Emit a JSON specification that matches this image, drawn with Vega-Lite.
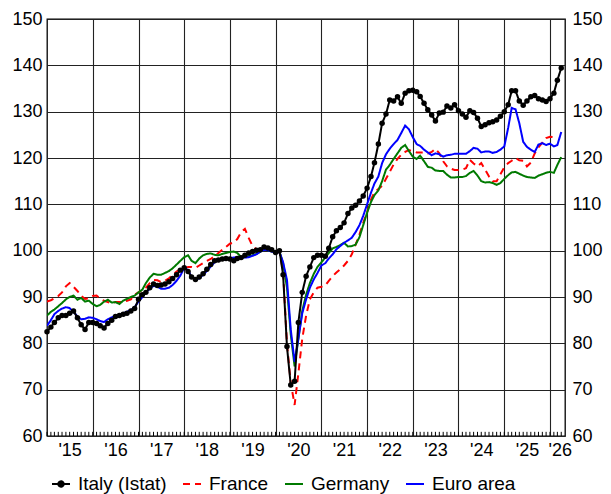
{
"$schema": "https://vega.github.io/schema/vega-lite/v6.json",
"width": 518, "height": 417,
"autosize": {"type": "none"},
"padding": {"left": 47, "top": 19, "right": 46, "bottom": 58},
"config": {
  "font": "Liberation Sans",
  "view": {"stroke": "black", "strokeWidth": 1.3},
  "axis": {"labelFont": "Liberation Sans", "labelFontSize": 18, "labelColor": "black", "title": null},
  "legend": {"labelFont": "Liberation Sans", "labelFontSize": 19, "labelColor": "black"}
},
"datasets": {"all": [
{"d":"2015-01","s":"France","v":89},{"d":"2015-02","s":"France","v":89.3},{"d":"2015-03","s":"France","v":89.7},{"d":"2015-04","s":"France","v":90.2},{"d":"2015-05","s":"France","v":91},{"d":"2015-06","s":"France","v":92.3},{"d":"2015-07","s":"France","v":93},{"d":"2015-08","s":"France","v":92.2},{"d":"2015-09","s":"France","v":91.3},{"d":"2015-10","s":"France","v":90.2},{"d":"2015-11","s":"France","v":89.6},{"d":"2015-12","s":"France","v":89.7},
{"d":"2016-01","s":"France","v":90.2},{"d":"2016-02","s":"France","v":90.3},{"d":"2016-03","s":"France","v":89.6},{"d":"2016-04","s":"France","v":89.2},{"d":"2016-05","s":"France","v":88.9},{"d":"2016-06","s":"France","v":88.7},{"d":"2016-07","s":"France","v":88.9},{"d":"2016-08","s":"France","v":88.9},{"d":"2016-09","s":"France","v":88.9},{"d":"2016-10","s":"France","v":89.2},{"d":"2016-11","s":"France","v":89.5},{"d":"2016-12","s":"France","v":90.5},
{"d":"2017-01","s":"France","v":91},{"d":"2017-02","s":"France","v":91.5},{"d":"2017-03","s":"France","v":92},{"d":"2017-04","s":"France","v":93},{"d":"2017-05","s":"France","v":93.7},{"d":"2017-06","s":"France","v":93.6},{"d":"2017-07","s":"France","v":93.2},{"d":"2017-08","s":"France","v":93.5},{"d":"2017-09","s":"France","v":94},{"d":"2017-10","s":"France","v":94.8},{"d":"2017-11","s":"France","v":95.5},{"d":"2017-12","s":"France","v":96},
{"d":"2018-01","s":"France","v":96.2},{"d":"2018-02","s":"France","v":96.5},{"d":"2018-03","s":"France","v":96.5},{"d":"2018-04","s":"France","v":96.3},{"d":"2018-05","s":"France","v":96.8},{"d":"2018-06","s":"France","v":97.3},{"d":"2018-07","s":"France","v":97.8},{"d":"2018-08","s":"France","v":98.2},{"d":"2018-09","s":"France","v":98.8},{"d":"2018-10","s":"France","v":99.5},{"d":"2018-11","s":"France","v":100.2},{"d":"2018-12","s":"France","v":100.8},
{"d":"2019-01","s":"France","v":101.5},{"d":"2019-02","s":"France","v":101.8},{"d":"2019-03","s":"France","v":102.5},{"d":"2019-04","s":"France","v":104},{"d":"2019-05","s":"France","v":104.7},{"d":"2019-06","s":"France","v":102.7},{"d":"2019-07","s":"France","v":101},{"d":"2019-08","s":"France","v":100.3},{"d":"2019-09","s":"France","v":100},{"d":"2019-10","s":"France","v":100.5},{"d":"2019-11","s":"France","v":100.5},{"d":"2019-12","s":"France","v":100.3},
{"d":"2020-01","s":"France","v":100},{"d":"2020-02","s":"France","v":99.8},{"d":"2020-03","s":"France","v":95.5},{"d":"2020-04","s":"France","v":80},{"d":"2020-05","s":"France","v":71.5},{"d":"2020-06","s":"France","v":66.7},{"d":"2020-07","s":"France","v":73.5},{"d":"2020-08","s":"France","v":81},{"d":"2020-09","s":"France","v":86},{"d":"2020-10","s":"France","v":89.5},{"d":"2020-11","s":"France","v":91},{"d":"2020-12","s":"France","v":92},
{"d":"2021-01","s":"France","v":92.2},{"d":"2021-02","s":"France","v":92.5},{"d":"2021-03","s":"France","v":93.5},{"d":"2021-04","s":"France","v":94.5},{"d":"2021-05","s":"France","v":95.3},{"d":"2021-06","s":"France","v":96},{"d":"2021-07","s":"France","v":96.8},{"d":"2021-08","s":"France","v":97.8},{"d":"2021-09","s":"France","v":99.2},{"d":"2021-10","s":"France","v":101.3},{"d":"2021-11","s":"France","v":103.5},{"d":"2021-12","s":"France","v":106},
{"d":"2022-01","s":"France","v":108.3},{"d":"2022-02","s":"France","v":111},{"d":"2022-03","s":"France","v":112.6},{"d":"2022-04","s":"France","v":113.3},{"d":"2022-05","s":"France","v":114},{"d":"2022-06","s":"France","v":115.5},{"d":"2022-07","s":"France","v":117},{"d":"2022-08","s":"France","v":118.6},{"d":"2022-09","s":"France","v":119.8},{"d":"2022-10","s":"France","v":120.7},{"d":"2022-11","s":"France","v":121.3},{"d":"2022-12","s":"France","v":121.7},
{"d":"2023-01","s":"France","v":121.5},{"d":"2023-02","s":"France","v":121.2},{"d":"2023-03","s":"France","v":121.2},{"d":"2023-04","s":"France","v":121.2},{"d":"2023-05","s":"France","v":121},{"d":"2023-06","s":"France","v":121.3},{"d":"2023-07","s":"France","v":122},{"d":"2023-08","s":"France","v":121},{"d":"2023-09","s":"France","v":119.3},{"d":"2023-10","s":"France","v":118.2},{"d":"2023-11","s":"France","v":117.7},{"d":"2023-12","s":"France","v":117.4},
{"d":"2024-01","s":"France","v":117.4},{"d":"2024-02","s":"France","v":117.5},{"d":"2024-03","s":"France","v":117.8},{"d":"2024-04","s":"France","v":119.6},{"d":"2024-05","s":"France","v":118.8},{"d":"2024-06","s":"France","v":118.2},{"d":"2024-07","s":"France","v":118.9},{"d":"2024-08","s":"France","v":117.5},{"d":"2024-09","s":"France","v":116},{"d":"2024-10","s":"France","v":115},{"d":"2024-11","s":"France","v":115},{"d":"2024-12","s":"France","v":116.5},
{"d":"2025-01","s":"France","v":118},{"d":"2025-02","s":"France","v":118.9},{"d":"2025-03","s":"France","v":119.4},{"d":"2025-04","s":"France","v":120},{"d":"2025-05","s":"France","v":119.5},{"d":"2025-06","s":"France","v":119.4},{"d":"2025-07","s":"France","v":118.2},{"d":"2025-08","s":"France","v":119},{"d":"2025-09","s":"France","v":121},{"d":"2025-10","s":"France","v":122.3},{"d":"2025-11","s":"France","v":123.3},{"d":"2025-12","s":"France","v":124.3},
{"d":"2026-01","s":"France","v":124.6},{"d":"2026-02","s":"France","v":124.5},
{"d":"2015-01","s":"Germany","v":86},{"d":"2015-02","s":"Germany","v":86.8},{"d":"2015-03","s":"Germany","v":87.3},{"d":"2015-04","s":"Germany","v":88},{"d":"2015-05","s":"Germany","v":88.7},{"d":"2015-06","s":"Germany","v":89.5},{"d":"2015-07","s":"Germany","v":90},{"d":"2015-08","s":"Germany","v":90.3},{"d":"2015-09","s":"Germany","v":89.4},{"d":"2015-10","s":"Germany","v":89.8},{"d":"2015-11","s":"Germany","v":89},{"d":"2015-12","s":"Germany","v":89.2},
{"d":"2016-01","s":"Germany","v":88.5},{"d":"2016-02","s":"Germany","v":88},{"d":"2016-03","s":"Germany","v":88.3},{"d":"2016-04","s":"Germany","v":89},{"d":"2016-05","s":"Germany","v":89.4},{"d":"2016-06","s":"Germany","v":88.8},{"d":"2016-07","s":"Germany","v":88.9},{"d":"2016-08","s":"Germany","v":88.5},{"d":"2016-09","s":"Germany","v":89.2},{"d":"2016-10","s":"Germany","v":89.6},{"d":"2016-11","s":"Germany","v":90},{"d":"2016-12","s":"Germany","v":90.3},
{"d":"2017-01","s":"Germany","v":91},{"d":"2017-02","s":"Germany","v":91.6},{"d":"2017-03","s":"Germany","v":93},{"d":"2017-04","s":"Germany","v":94.2},{"d":"2017-05","s":"Germany","v":95},{"d":"2017-06","s":"Germany","v":94.8},{"d":"2017-07","s":"Germany","v":94.8},{"d":"2017-08","s":"Germany","v":95.2},{"d":"2017-09","s":"Germany","v":95.6},{"d":"2017-10","s":"Germany","v":96.2},{"d":"2017-11","s":"Germany","v":97},{"d":"2017-12","s":"Germany","v":97.8},
{"d":"2018-01","s":"Germany","v":98.6},{"d":"2018-02","s":"Germany","v":99},{"d":"2018-03","s":"Germany","v":97.8},{"d":"2018-04","s":"Germany","v":97.3},{"d":"2018-05","s":"Germany","v":98.3},{"d":"2018-06","s":"Germany","v":99},{"d":"2018-07","s":"Germany","v":99.3},{"d":"2018-08","s":"Germany","v":99.4},{"d":"2018-09","s":"Germany","v":99.1},{"d":"2018-10","s":"Germany","v":99},{"d":"2018-11","s":"Germany","v":99.3},{"d":"2018-12","s":"Germany","v":99.5},
{"d":"2019-01","s":"Germany","v":99.7},{"d":"2019-02","s":"Germany","v":99.8},{"d":"2019-03","s":"Germany","v":99.5},{"d":"2019-04","s":"Germany","v":98.6},{"d":"2019-05","s":"Germany","v":98.6},{"d":"2019-06","s":"Germany","v":98.8},{"d":"2019-07","s":"Germany","v":99},{"d":"2019-08","s":"Germany","v":99.3},{"d":"2019-09","s":"Germany","v":99.8},{"d":"2019-10","s":"Germany","v":100.2},{"d":"2019-11","s":"Germany","v":100.1},{"d":"2019-12","s":"Germany","v":99.9},
{"d":"2020-01","s":"Germany","v":99.6},{"d":"2020-02","s":"Germany","v":99.8},{"d":"2020-03","s":"Germany","v":97.3},{"d":"2020-04","s":"Germany","v":92},{"d":"2020-05","s":"Germany","v":82},{"d":"2020-06","s":"Germany","v":75},{"d":"2020-07","s":"Germany","v":81},{"d":"2020-08","s":"Germany","v":87},{"d":"2020-09","s":"Germany","v":90.5},{"d":"2020-10","s":"Germany","v":93},{"d":"2020-11","s":"Germany","v":95},{"d":"2020-12","s":"Germany","v":96.5},
{"d":"2021-01","s":"Germany","v":97.5},{"d":"2021-02","s":"Germany","v":98.5},{"d":"2021-03","s":"Germany","v":99.5},{"d":"2021-04","s":"Germany","v":100.5},{"d":"2021-05","s":"Germany","v":100.8},{"d":"2021-06","s":"Germany","v":101.2},{"d":"2021-07","s":"Germany","v":101.7},{"d":"2021-08","s":"Germany","v":100.9},{"d":"2021-09","s":"Germany","v":101},{"d":"2021-10","s":"Germany","v":101.3},{"d":"2021-11","s":"Germany","v":102.9},{"d":"2021-12","s":"Germany","v":105.5},
{"d":"2022-01","s":"Germany","v":108.2},{"d":"2022-02","s":"Germany","v":110.5},{"d":"2022-03","s":"Germany","v":112},{"d":"2022-04","s":"Germany","v":113},{"d":"2022-05","s":"Germany","v":115},{"d":"2022-06","s":"Germany","v":117.5},{"d":"2022-07","s":"Germany","v":118.5},{"d":"2022-08","s":"Germany","v":119.8},{"d":"2022-09","s":"Germany","v":121},{"d":"2022-10","s":"Germany","v":122.2},{"d":"2022-11","s":"Germany","v":122.8},{"d":"2022-12","s":"Germany","v":121.5},
{"d":"2023-01","s":"Germany","v":120.3},{"d":"2023-02","s":"Germany","v":119.8},{"d":"2023-03","s":"Germany","v":120.5},{"d":"2023-04","s":"Germany","v":119.3},{"d":"2023-05","s":"Germany","v":118.1},{"d":"2023-06","s":"Germany","v":117.9},{"d":"2023-07","s":"Germany","v":117.3},{"d":"2023-08","s":"Germany","v":117.2},{"d":"2023-09","s":"Germany","v":117.2},{"d":"2023-10","s":"Germany","v":116.4},{"d":"2023-11","s":"Germany","v":115.8},{"d":"2023-12","s":"Germany","v":115.8},
{"d":"2024-01","s":"Germany","v":115.9},{"d":"2024-02","s":"Germany","v":115.9},{"d":"2024-03","s":"Germany","v":116.1},{"d":"2024-04","s":"Germany","v":116.8},{"d":"2024-05","s":"Germany","v":117.2},{"d":"2024-06","s":"Germany","v":116.2},{"d":"2024-07","s":"Germany","v":115},{"d":"2024-08","s":"Germany","v":114.7},{"d":"2024-09","s":"Germany","v":114.8},{"d":"2024-10","s":"Germany","v":114.6},{"d":"2024-11","s":"Germany","v":114.2},{"d":"2024-12","s":"Germany","v":114.6},
{"d":"2025-01","s":"Germany","v":115.5},{"d":"2025-02","s":"Germany","v":116.3},{"d":"2025-03","s":"Germany","v":116.9},{"d":"2025-04","s":"Germany","v":117},{"d":"2025-05","s":"Germany","v":116.6},{"d":"2025-06","s":"Germany","v":116.2},{"d":"2025-07","s":"Germany","v":115.9},{"d":"2025-08","s":"Germany","v":115.8},{"d":"2025-09","s":"Germany","v":115.7},{"d":"2025-10","s":"Germany","v":116.2},{"d":"2025-11","s":"Germany","v":116.5},{"d":"2025-12","s":"Germany","v":116.8},
{"d":"2026-01","s":"Germany","v":117},{"d":"2026-02","s":"Germany","v":116.8},{"d":"2026-03","s":"Germany","v":118.5},{"d":"2026-04","s":"Germany","v":120.2},
{"d":"2015-01","s":"Euro area","v":83.8},{"d":"2015-02","s":"Euro area","v":85},{"d":"2015-03","s":"Euro area","v":86.3},{"d":"2015-04","s":"Euro area","v":87},{"d":"2015-05","s":"Euro area","v":87.5},{"d":"2015-06","s":"Euro area","v":87.8},{"d":"2015-07","s":"Euro area","v":87.6},{"d":"2015-08","s":"Euro area","v":86.8},{"d":"2015-09","s":"Euro area","v":85.8},{"d":"2015-10","s":"Euro area","v":85.2},{"d":"2015-11","s":"Euro area","v":85.3},{"d":"2015-12","s":"Euro area","v":85.6},
{"d":"2016-01","s":"Euro area","v":85.5},{"d":"2016-02","s":"Euro area","v":85.2},{"d":"2016-03","s":"Euro area","v":84.8},{"d":"2016-04","s":"Euro area","v":84.6},{"d":"2016-05","s":"Euro area","v":85.2},{"d":"2016-06","s":"Euro area","v":85.6},{"d":"2016-07","s":"Euro area","v":86},{"d":"2016-08","s":"Euro area","v":86.2},{"d":"2016-09","s":"Euro area","v":86.5},{"d":"2016-10","s":"Euro area","v":86.8},{"d":"2016-11","s":"Euro area","v":87.2},{"d":"2016-12","s":"Euro area","v":87.8},
{"d":"2017-01","s":"Euro area","v":89},{"d":"2017-02","s":"Euro area","v":90},{"d":"2017-03","s":"Euro area","v":91},{"d":"2017-04","s":"Euro area","v":91.8},{"d":"2017-05","s":"Euro area","v":92.4},{"d":"2017-06","s":"Euro area","v":92.2},{"d":"2017-07","s":"Euro area","v":91.8},{"d":"2017-08","s":"Euro area","v":91.8},{"d":"2017-09","s":"Euro area","v":92},{"d":"2017-10","s":"Euro area","v":92.6},{"d":"2017-11","s":"Euro area","v":93.5},{"d":"2017-12","s":"Euro area","v":94.6},
{"d":"2018-01","s":"Euro area","v":96.3},{"d":"2018-02","s":"Euro area","v":95.8},{"d":"2018-03","s":"Euro area","v":94.3},{"d":"2018-04","s":"Euro area","v":93.8},{"d":"2018-05","s":"Euro area","v":94},{"d":"2018-06","s":"Euro area","v":94.8},{"d":"2018-07","s":"Euro area","v":95.6},{"d":"2018-08","s":"Euro area","v":96.6},{"d":"2018-09","s":"Euro area","v":97.5},{"d":"2018-10","s":"Euro area","v":98},{"d":"2018-11","s":"Euro area","v":98},{"d":"2018-12","s":"Euro area","v":98.1},
{"d":"2019-01","s":"Euro area","v":98.4},{"d":"2019-02","s":"Euro area","v":98.5},{"d":"2019-03","s":"Euro area","v":98.6},{"d":"2019-04","s":"Euro area","v":98.6},{"d":"2019-05","s":"Euro area","v":98.5},{"d":"2019-06","s":"Euro area","v":98.6},{"d":"2019-07","s":"Euro area","v":98.9},{"d":"2019-08","s":"Euro area","v":99.2},{"d":"2019-09","s":"Euro area","v":99.8},{"d":"2019-10","s":"Euro area","v":100.2},{"d":"2019-11","s":"Euro area","v":100.1},{"d":"2019-12","s":"Euro area","v":99.8},
{"d":"2020-01","s":"Euro area","v":99.6},{"d":"2020-02","s":"Euro area","v":99.7},{"d":"2020-03","s":"Euro area","v":97.5},{"d":"2020-04","s":"Euro area","v":93.7},{"d":"2020-05","s":"Euro area","v":83},{"d":"2020-06","s":"Euro area","v":76},{"d":"2020-07","s":"Euro area","v":81},{"d":"2020-08","s":"Euro area","v":86.5},{"d":"2020-09","s":"Euro area","v":89.5},{"d":"2020-10","s":"Euro area","v":92},{"d":"2020-11","s":"Euro area","v":93.8},{"d":"2020-12","s":"Euro area","v":95.2},
{"d":"2021-01","s":"Euro area","v":96.8},{"d":"2021-02","s":"Euro area","v":97.3},{"d":"2021-03","s":"Euro area","v":98.3},{"d":"2021-04","s":"Euro area","v":99.2},{"d":"2021-05","s":"Euro area","v":100.3},{"d":"2021-06","s":"Euro area","v":101},{"d":"2021-07","s":"Euro area","v":101.7},{"d":"2021-08","s":"Euro area","v":102.2},{"d":"2021-09","s":"Euro area","v":102.8},{"d":"2021-10","s":"Euro area","v":104},{"d":"2021-11","s":"Euro area","v":105.5},{"d":"2021-12","s":"Euro area","v":107.5},
{"d":"2022-01","s":"Euro area","v":110},{"d":"2022-02","s":"Euro area","v":112.5},{"d":"2022-03","s":"Euro area","v":114.5},{"d":"2022-04","s":"Euro area","v":116},{"d":"2022-05","s":"Euro area","v":118.9},{"d":"2022-06","s":"Euro area","v":120.8},{"d":"2022-07","s":"Euro area","v":122},{"d":"2022-08","s":"Euro area","v":123},{"d":"2022-09","s":"Euro area","v":123.9},{"d":"2022-10","s":"Euro area","v":125.4},{"d":"2022-11","s":"Euro area","v":127},{"d":"2022-12","s":"Euro area","v":126.2},
{"d":"2023-01","s":"Euro area","v":124.5},{"d":"2023-02","s":"Euro area","v":123},{"d":"2023-03","s":"Euro area","v":122.6},{"d":"2023-04","s":"Euro area","v":121.8},{"d":"2023-05","s":"Euro area","v":121.2},{"d":"2023-06","s":"Euro area","v":120.6},{"d":"2023-07","s":"Euro area","v":121},{"d":"2023-08","s":"Euro area","v":120.8},{"d":"2023-09","s":"Euro area","v":120.3},{"d":"2023-10","s":"Euro area","v":120.6},{"d":"2023-11","s":"Euro area","v":120.7},{"d":"2023-12","s":"Euro area","v":120.9},
{"d":"2024-01","s":"Euro area","v":120.9},{"d":"2024-02","s":"Euro area","v":120.9},{"d":"2024-03","s":"Euro area","v":120.9},{"d":"2024-04","s":"Euro area","v":121.5},{"d":"2024-05","s":"Euro area","v":122.2},{"d":"2024-06","s":"Euro area","v":122},{"d":"2024-07","s":"Euro area","v":121.2},{"d":"2024-08","s":"Euro area","v":121.4},{"d":"2024-09","s":"Euro area","v":121.4},{"d":"2024-10","s":"Euro area","v":121.1},{"d":"2024-11","s":"Euro area","v":121.3},{"d":"2024-12","s":"Euro area","v":121.8},
{"d":"2025-01","s":"Euro area","v":122.5},{"d":"2025-02","s":"Euro area","v":126.5},{"d":"2025-03","s":"Euro area","v":130.8},{"d":"2025-04","s":"Euro area","v":130.5},{"d":"2025-05","s":"Euro area","v":127.5},{"d":"2025-06","s":"Euro area","v":123.5},{"d":"2025-07","s":"Euro area","v":122.4},{"d":"2025-08","s":"Euro area","v":121.8},{"d":"2025-09","s":"Euro area","v":121.3},{"d":"2025-10","s":"Euro area","v":122.9},{"d":"2025-11","s":"Euro area","v":123.2},{"d":"2025-12","s":"Euro area","v":122.8},
{"d":"2026-01","s":"Euro area","v":123.1},{"d":"2026-02","s":"Euro area","v":122.5},{"d":"2026-03","s":"Euro area","v":122.8},{"d":"2026-04","s":"Euro area","v":125.6},
{"d":"2015-01","s":"Italy (Istat)","v":82.5},{"d":"2015-02","s":"Italy (Istat)","v":83.5},{"d":"2015-03","s":"Italy (Istat)","v":84.5},{"d":"2015-04","s":"Italy (Istat)","v":85.5},{"d":"2015-05","s":"Italy (Istat)","v":86},{"d":"2015-06","s":"Italy (Istat)","v":86},{"d":"2015-07","s":"Italy (Istat)","v":86.5},{"d":"2015-08","s":"Italy (Istat)","v":87},{"d":"2015-09","s":"Italy (Istat)","v":85.5},{"d":"2015-10","s":"Italy (Istat)","v":84},{"d":"2015-11","s":"Italy (Istat)","v":83},{"d":"2015-12","s":"Italy (Istat)","v":84.5},
{"d":"2016-01","s":"Italy (Istat)","v":84.5},{"d":"2016-02","s":"Italy (Istat)","v":84.3},{"d":"2016-03","s":"Italy (Istat)","v":83.8},{"d":"2016-04","s":"Italy (Istat)","v":83.3},{"d":"2016-05","s":"Italy (Istat)","v":84.3},{"d":"2016-06","s":"Italy (Istat)","v":85},{"d":"2016-07","s":"Italy (Istat)","v":85.8},{"d":"2016-08","s":"Italy (Istat)","v":86},{"d":"2016-09","s":"Italy (Istat)","v":86.3},{"d":"2016-10","s":"Italy (Istat)","v":86.5},{"d":"2016-11","s":"Italy (Istat)","v":87},{"d":"2016-12","s":"Italy (Istat)","v":87.5},
{"d":"2017-01","s":"Italy (Istat)","v":89.5},{"d":"2017-02","s":"Italy (Istat)","v":90.5},{"d":"2017-03","s":"Italy (Istat)","v":91},{"d":"2017-04","s":"Italy (Istat)","v":92},{"d":"2017-05","s":"Italy (Istat)","v":92.8},{"d":"2017-06","s":"Italy (Istat)","v":92.5},{"d":"2017-07","s":"Italy (Istat)","v":92.6},{"d":"2017-08","s":"Italy (Istat)","v":92.8},{"d":"2017-09","s":"Italy (Istat)","v":93.3},{"d":"2017-10","s":"Italy (Istat)","v":94},{"d":"2017-11","s":"Italy (Istat)","v":94.8},{"d":"2017-12","s":"Italy (Istat)","v":95.8},
{"d":"2018-01","s":"Italy (Istat)","v":96.3},{"d":"2018-02","s":"Italy (Istat)","v":95.5},{"d":"2018-03","s":"Italy (Istat)","v":94.3},{"d":"2018-04","s":"Italy (Istat)","v":93.8},{"d":"2018-05","s":"Italy (Istat)","v":94.3},{"d":"2018-06","s":"Italy (Istat)","v":95},{"d":"2018-07","s":"Italy (Istat)","v":96},{"d":"2018-08","s":"Italy (Istat)","v":97},{"d":"2018-09","s":"Italy (Istat)","v":97.8},{"d":"2018-10","s":"Italy (Istat)","v":98},{"d":"2018-11","s":"Italy (Istat)","v":98.2},{"d":"2018-12","s":"Italy (Istat)","v":98.3},
{"d":"2019-01","s":"Italy (Istat)","v":98.2},{"d":"2019-02","s":"Italy (Istat)","v":97.8},{"d":"2019-03","s":"Italy (Istat)","v":98.3},{"d":"2019-04","s":"Italy (Istat)","v":98.5},{"d":"2019-05","s":"Italy (Istat)","v":99},{"d":"2019-06","s":"Italy (Istat)","v":99.5},{"d":"2019-07","s":"Italy (Istat)","v":99.8},{"d":"2019-08","s":"Italy (Istat)","v":100.1},{"d":"2019-09","s":"Italy (Istat)","v":100.2},{"d":"2019-10","s":"Italy (Istat)","v":100.8},{"d":"2019-11","s":"Italy (Istat)","v":100.6},{"d":"2019-12","s":"Italy (Istat)","v":100.2},
{"d":"2020-01","s":"Italy (Istat)","v":99.6},{"d":"2020-02","s":"Italy (Istat)","v":100},{"d":"2020-03","s":"Italy (Istat)","v":94.8},{"d":"2020-04","s":"Italy (Istat)","v":79.3},{"d":"2020-05","s":"Italy (Istat)","v":71},{"d":"2020-06","s":"Italy (Istat)","v":71.8},{"d":"2020-07","s":"Italy (Istat)","v":84.5},{"d":"2020-08","s":"Italy (Istat)","v":91},{"d":"2020-09","s":"Italy (Istat)","v":94.5},{"d":"2020-10","s":"Italy (Istat)","v":96.5},{"d":"2020-11","s":"Italy (Istat)","v":98.5},{"d":"2020-12","s":"Italy (Istat)","v":99},
{"d":"2021-01","s":"Italy (Istat)","v":99},{"d":"2021-02","s":"Italy (Istat)","v":98.8},{"d":"2021-03","s":"Italy (Istat)","v":100.5},{"d":"2021-04","s":"Italy (Istat)","v":103},{"d":"2021-05","s":"Italy (Istat)","v":104.3},{"d":"2021-06","s":"Italy (Istat)","v":105},{"d":"2021-07","s":"Italy (Istat)","v":106},{"d":"2021-08","s":"Italy (Istat)","v":108},{"d":"2021-09","s":"Italy (Istat)","v":109.2},{"d":"2021-10","s":"Italy (Istat)","v":109.8},{"d":"2021-11","s":"Italy (Istat)","v":110.7},{"d":"2021-12","s":"Italy (Istat)","v":111.8},
{"d":"2022-01","s":"Italy (Istat)","v":113.5},{"d":"2022-02","s":"Italy (Istat)","v":116},{"d":"2022-03","s":"Italy (Istat)","v":119},{"d":"2022-04","s":"Italy (Istat)","v":123},{"d":"2022-05","s":"Italy (Istat)","v":127.5},{"d":"2022-06","s":"Italy (Istat)","v":129.5},{"d":"2022-07","s":"Italy (Istat)","v":132.5},{"d":"2022-08","s":"Italy (Istat)","v":132.3},{"d":"2022-09","s":"Italy (Istat)","v":133.2},{"d":"2022-10","s":"Italy (Istat)","v":131.8},{"d":"2022-11","s":"Italy (Istat)","v":134},{"d":"2022-12","s":"Italy (Istat)","v":134.5},
{"d":"2023-01","s":"Italy (Istat)","v":134.6},{"d":"2023-02","s":"Italy (Istat)","v":134.3},{"d":"2023-03","s":"Italy (Istat)","v":133.3},{"d":"2023-04","s":"Italy (Istat)","v":131.8},{"d":"2023-05","s":"Italy (Istat)","v":130.4},{"d":"2023-06","s":"Italy (Istat)","v":129.3},{"d":"2023-07","s":"Italy (Istat)","v":128},{"d":"2023-08","s":"Italy (Istat)","v":129.7},{"d":"2023-09","s":"Italy (Istat)","v":129.9},{"d":"2023-10","s":"Italy (Istat)","v":131.2},{"d":"2023-11","s":"Italy (Istat)","v":130.8},{"d":"2023-12","s":"Italy (Istat)","v":131.5},
{"d":"2024-01","s":"Italy (Istat)","v":130.2},{"d":"2024-02","s":"Italy (Istat)","v":129.5},{"d":"2024-03","s":"Italy (Istat)","v":128.8},{"d":"2024-04","s":"Italy (Istat)","v":130.2},{"d":"2024-05","s":"Italy (Istat)","v":129.8},{"d":"2024-06","s":"Italy (Istat)","v":128.6},{"d":"2024-07","s":"Italy (Istat)","v":126.8},{"d":"2024-08","s":"Italy (Istat)","v":127.2},{"d":"2024-09","s":"Italy (Istat)","v":127.6},{"d":"2024-10","s":"Italy (Istat)","v":127.8},{"d":"2024-11","s":"Italy (Istat)","v":128.2},{"d":"2024-12","s":"Italy (Istat)","v":129},
{"d":"2025-01","s":"Italy (Istat)","v":130},{"d":"2025-02","s":"Italy (Istat)","v":131.5},{"d":"2025-03","s":"Italy (Istat)","v":134.5},{"d":"2025-04","s":"Italy (Istat)","v":134.5},{"d":"2025-05","s":"Italy (Istat)","v":132.3},{"d":"2025-06","s":"Italy (Istat)","v":131.4},{"d":"2025-07","s":"Italy (Istat)","v":132.3},{"d":"2025-08","s":"Italy (Istat)","v":133.2},{"d":"2025-09","s":"Italy (Istat)","v":133.5},{"d":"2025-10","s":"Italy (Istat)","v":132.8},{"d":"2025-11","s":"Italy (Istat)","v":132.5},{"d":"2025-12","s":"Italy (Istat)","v":132.2},
{"d":"2026-01","s":"Italy (Istat)","v":132.8},{"d":"2026-02","s":"Italy (Istat)","v":134},{"d":"2026-03","s":"Italy (Istat)","v":136.8},{"d":"2026-04","s":"Italy (Istat)","v":139.4}
]},
"data": {"name": "all"},
"layer": [
  {
    "transform": [{"filter": "datum.s === 'Italy (Istat)'"}],
    "mark": {"type": "rule", "color": "#000000", "strokeWidth": 1},
    "encoding": {
      "x": {"field": "d", "type": "temporal", "axis": null},
      "y": {"datum": 60, "type": "quantitative", "axis": null},
      "y2": {"datum": 60.9}
    }
  },
  {
    "mark": {"type": "line", "strokeWidth": 2, "clip": true},
    "encoding": {
      "x": {"field": "d", "type": "temporal",
        "scale": {"type": "utc", "domain": [{"year": 2015, "month": 1, "date": 1, "utc": true}, {"year": 2026, "month": 5, "date": 1, "utc": true}]},
        "axis": {"orient": "bottom", "values": [
          {"year": 2016, "month": 1, "date": 1, "utc": true}, {"year": 2017, "month": 1, "date": 1, "utc": true},
          {"year": 2018, "month": 1, "date": 1, "utc": true}, {"year": 2019, "month": 1, "date": 1, "utc": true},
          {"year": 2020, "month": 1, "date": 1, "utc": true}, {"year": 2021, "month": 1, "date": 1, "utc": true},
          {"year": 2022, "month": 1, "date": 1, "utc": true}, {"year": 2023, "month": 1, "date": 1, "utc": true},
          {"year": 2024, "month": 1, "date": 1, "utc": true}, {"year": 2025, "month": 1, "date": 1, "utc": true},
          {"year": 2026, "month": 1, "date": 1, "utc": true}],
          "grid": true, "gridColor": "#222", "gridWidth": 1.1, "gridOpacity": 1, "labels": false, "ticks": false, "domain": false}},
      "y": {"field": "v", "type": "quantitative",
        "scale": {"domain": [60, 150], "nice": false, "zero": false},
        "axis": {"orient": "left", "values": [60, 70, 80, 90, 100, 110, 120, 130, 140, 150], "grid": true, "gridColor": "#222", "gridWidth": 1.1, "gridOpacity": 1, "ticks": false, "tickSize": 0, "domain": false, "labelPadding": 5}},
      "color": {"field": "s", "type": "nominal",
        "scale": {"domain": ["Italy (Istat)", "France", "Germany", "Euro area"], "range": ["#000000", "#ff0000", "#007a00", "#0000ff"]},
        "legend": {"title": null, "orient": "none", "direction": "horizontal", "legendX": 4, "legendY": 455,
          "symbolType": "stroke", "symbolSize": 324, "symbolStrokeWidth": 2, "labelOffset": 7, "columnPadding": 12, "padding": 0,
          "encode": {"symbols": {"update": {
            "shape": {"signal": "datum.value === 'Italy (Istat)' ? 'M-1,0L1,0M-0.3,0A0.3,0.3,0,1,0,0.3,0A0.3,0.3,0,1,0,-0.3,0Z' : 'stroke'"},
            "fill": {"signal": "datum.value === 'Italy (Istat)' ? '#000000' : 'transparent'"}}}}}},
      "strokeDash": {"field": "s", "type": "nominal",
        "scale": {"domain": ["Italy (Istat)", "France", "Germany", "Euro area"], "range": [[1, 0], [7, 5], [1, 0], [1, 0]]},
        "legend": {"title": null, "orient": "none", "direction": "horizontal", "legendX": 4, "legendY": 455,
          "symbolType": "stroke", "symbolSize": 324, "symbolStrokeWidth": 2, "labelOffset": 7, "columnPadding": 12, "padding": 0}}
    }
  },
  {
    "transform": [{"filter": "datum.s === 'Italy (Istat)'"}],
    "mark": {"type": "circle", "size": 30, "color": "#000000", "opacity": 1},
    "encoding": {
      "x": {"field": "d", "type": "temporal", "axis": null},
      "y": {"field": "v", "type": "quantitative",
        "axis": {"orient": "right", "values": [60, 70, 80, 90, 100, 110, 120, 130, 140, 150], "grid": false, "ticks": false, "tickSize": 0, "domain": false, "labelPadding": 7}}
    }
  },
  {
    "mark": {"type": "line", "opacity": 0},
    "encoding": {
      "x": {"field": "d", "type": "temporal",
        "axis": {"orient": "bottom", "values": [
          {"year": 2015, "month": 7, "date": 1, "utc": true}, {"year": 2016, "month": 7, "date": 1, "utc": true},
          {"year": 2017, "month": 7, "date": 1, "utc": true}, {"year": 2018, "month": 7, "date": 1, "utc": true},
          {"year": 2019, "month": 7, "date": 1, "utc": true}, {"year": 2020, "month": 7, "date": 1, "utc": true},
          {"year": 2021, "month": 7, "date": 1, "utc": true}, {"year": 2022, "month": 7, "date": 1, "utc": true},
          {"year": 2023, "month": 7, "date": 1, "utc": true}, {"year": 2024, "month": 7, "date": 1, "utc": true},
          {"year": 2025, "month": 7, "date": 1, "utc": true}, {"year": 2026, "month": 3, "date": 20, "utc": true}],
          "format": "'%y", "ticks": false, "tickSize": 0, "grid": false, "domain": false, "labelPadding": 5,
          "labelFlush": false, "labelOverlap": false, "labelBound": false}},
      "y": {"field": "v", "type": "quantitative", "axis": null},
      "detail": {"field": "s"}
    }
  }
],
"resolve": {"axis": {"x": "independent", "y": "independent"}}
}
